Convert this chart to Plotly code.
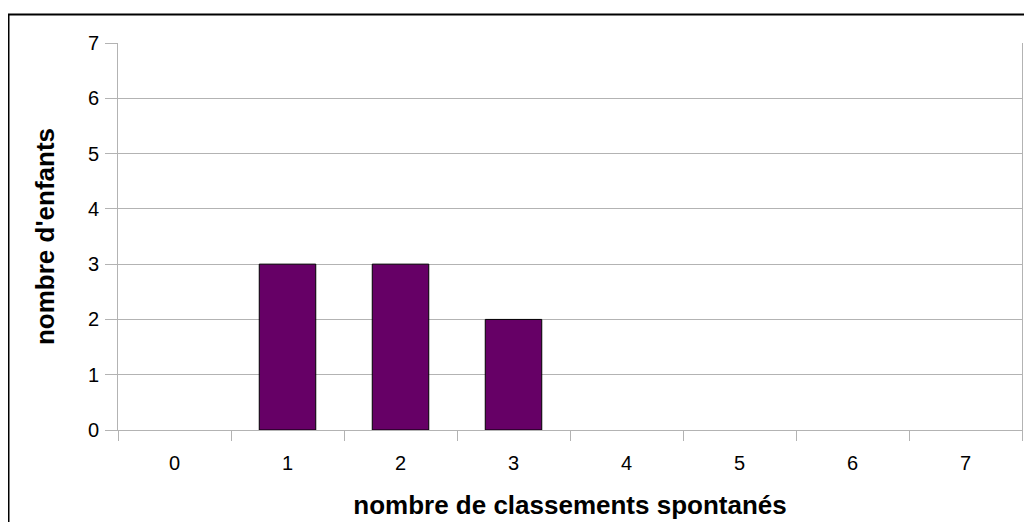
import plotly.graph_objects as go

categories = ["0", "1", "2", "3", "4", "5", "6", "7"]
values = [0, 3, 3, 2, 0, 0, 0, 0]
y_ticks = [0, 1, 2, 3, 4, 5, 6, 7]

# page has an 8px body margin, so the figure is 8px smaller and shifted
OFF = 8
W, H = 1032 - OFF, 522 - OFF
L, R, T, B = 118 - OFF, 10, 43 - OFF, 92
pw, ph = W - L - R, H - T - B

def px_x(x):
    return (x - OFF - L) / pw

def px_y(y):
    return (H - B - (y - OFF)) / ph

fig = go.Figure(go.Bar(
    x=categories, y=[v if v else None for v in values], width=0.5,
    marker=dict(color="#660066", line=dict(color="#000000", width=1)),
))

fig.update_layout(
    width=W, height=H,
    margin=dict(l=L, r=R, t=T, b=B, autoexpand=False),
    paper_bgcolor="white", plot_bgcolor="white",
    font=dict(family="Liberation Sans, Arial, sans-serif", size=20, color="black"),
    showlegend=False,
    xaxis=dict(
        type="category", tickson="boundaries", ticks="outside", ticklen=10,
        tickcolor="#b3b3b3", tickwidth=1, showgrid=False,
        showline=True, linecolor="#b3b3b3", linewidth=1,
        tickfont=dict(size=20), ticklabelstandoff=15,
        title=dict(text="<b>nombre de classements spontanés</b>", font=dict(size=26), standoff=22),
        range=[-0.5, 7.5],
    ),
    yaxis=dict(
        range=[0, 7], tickvals=y_ticks, ticks="outside", ticklen=12,
        tickcolor="#b3b3b3", tickwidth=1,
        showgrid=True, gridcolor="#b3b3b3", gridwidth=1,
        showline=True, linecolor="#b3b3b3", linewidth=1, mirror=True,
        zeroline=False, tickfont=dict(size=20), ticklabelstandoff=2,
        title=dict(text="<b>nombre d'enfants</b>", font=dict(size=26), standoff=25),
    ),
    shapes=[dict(
        type="rect", xref="paper", yref="paper",
        x0=px_x(8.5), x1=px_x(1045), y0=px_y(14.5), y1=px_y(540),
        line=dict(color="black", width=2), fillcolor="rgba(0,0,0,0)", layer="above",
    )],
)

fig.write_html("out.html")
